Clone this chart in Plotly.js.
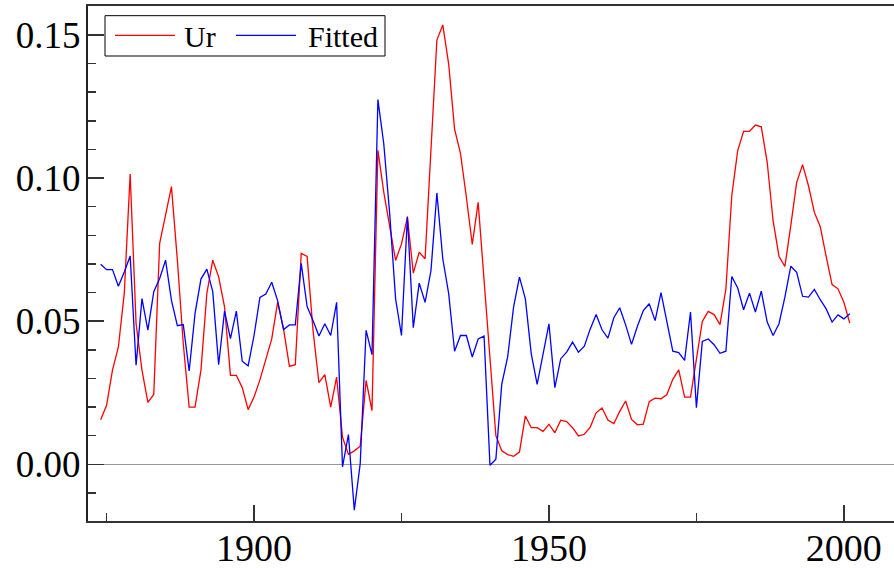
<!DOCTYPE html>
<html>
<head>
<meta charset="utf-8">
<script src="https://cdn.plot.ly/plotly-3.0.1.min.js"></script>
<style>
  html, body { margin: 0; padding: 0; background: #fff; }
  #chart { width: 894px; height: 568px; }
</style>
</head>
<body>
<div id="chart"></div>
<script>
const startYear = 1874;

const ur = [
  0.0156, 0.0206, 0.0329, 0.0410, 0.0597, 0.1014, 0.0492, 0.0329, 0.0216, 0.0244,
  0.0772, 0.0876, 0.0970, 0.0713, 0.0422, 0.0200, 0.0200, 0.0329, 0.0597, 0.0713,
  0.0655, 0.0550, 0.0311, 0.0311, 0.0268, 0.0191, 0.0235, 0.0295, 0.0370, 0.0438,
  0.0566, 0.0473, 0.0342, 0.0348, 0.0737, 0.0726, 0.0468, 0.0285, 0.0313, 0.0200,
  0.0305, 0.0095, 0.0035, 0.0047, 0.0063, 0.0293, 0.0188, 0.1097, 0.0950, 0.0828,
  0.0712, 0.0770, 0.0863, 0.0668, 0.0741, 0.0718, 0.1090, 0.1482, 0.1535, 0.1398,
  0.1171, 0.1086, 0.0933, 0.0768, 0.0915, 0.0645, 0.0375, 0.0100, 0.0047, 0.0034,
  0.0028, 0.0043, 0.0169, 0.0128, 0.0128, 0.0115, 0.0140, 0.0110, 0.0154, 0.0149,
  0.0128, 0.0099, 0.0105, 0.0130, 0.0180, 0.0197, 0.0155, 0.0142, 0.0185, 0.0221,
  0.0157, 0.0138, 0.0140, 0.0219, 0.0231, 0.0229, 0.0244, 0.0297, 0.0330, 0.0235,
  0.0235, 0.0366, 0.0499, 0.0534, 0.0523, 0.0488, 0.0613, 0.0939, 0.1096, 0.1163,
  0.1163, 0.1185, 0.1179, 0.1055, 0.0851, 0.0727, 0.0691, 0.0834, 0.0985, 0.1047,
  0.0973, 0.0880, 0.0830, 0.0726, 0.0628, 0.0613, 0.0566, 0.0493
];

const fitted = [
  0.0699, 0.0680, 0.0680, 0.0622, 0.0672, 0.0728, 0.0346, 0.0579, 0.0469, 0.0603,
  0.0649, 0.0713, 0.0573, 0.0484, 0.0488, 0.0326, 0.0527, 0.0647, 0.0682, 0.0603,
  0.0348, 0.0535, 0.0439, 0.0535, 0.0360, 0.0344, 0.0450, 0.0583, 0.0595, 0.0636,
  0.0572, 0.0471, 0.0487, 0.0487, 0.0702, 0.0551, 0.0502, 0.0448, 0.0491, 0.0450,
  0.0566, -0.0009, 0.0104, -0.0160, 0.0002, 0.0468, 0.0383, 0.1274, 0.1119, 0.0875,
  0.0578, 0.0450, 0.0866, 0.0477, 0.0633, 0.0566, 0.0677, 0.0948, 0.0718, 0.0596,
  0.0395, 0.0450, 0.0450, 0.0375, 0.0438, 0.0448, -0.0003, 0.0018, 0.0280, 0.0375,
  0.0549, 0.0654, 0.0578, 0.0386, 0.0279, 0.0392, 0.0491, 0.0268, 0.0369, 0.0392,
  0.0427, 0.0392, 0.0413, 0.0473, 0.0523, 0.0470, 0.0441, 0.0512, 0.0547, 0.0487,
  0.0419, 0.0482, 0.0537, 0.0561, 0.0502, 0.0600, 0.0497, 0.0395, 0.0390, 0.0363,
  0.0532, 0.0198, 0.0429, 0.0438, 0.0418, 0.0388, 0.0395, 0.0656, 0.0616, 0.0540,
  0.0598, 0.0532, 0.0605, 0.0497, 0.0450, 0.0491, 0.0584, 0.0692, 0.0671, 0.0587,
  0.0584, 0.0611, 0.0575, 0.0543, 0.0497, 0.0522, 0.0508, 0.0526
];

const years = ur.map((_, i) => startYear + i);
const seriesNames = ["Ur", "Fitted"];
const seriesColors = ["#ff0000", "#0000ff"];
const xTickVals = [1900, 1950, 2000];
const xTickText = ["1900", "1950", "2000"];
const yTickVals = [0, 0.05, 0.10, 0.15];
const yTickText = ["0.00", "0.05", "0.10", "0.15"];

const serif = "Liberation Serif, Times New Roman, serif";

const traces = [
  { x: years, y: ur, type: "scatter", mode: "lines", name: seriesNames[0],
    line: { color: seriesColors[0], width: 1.3 } },
  { x: years, y: fitted, type: "scatter", mode: "lines", name: seriesNames[1],
    line: { color: seriesColors[1], width: 1.3 } }
];

// Legend drawn in paper coordinates (box with long sample lines, as in the reference)
const legY = 0.9431;
const legendShapes = [
  { type: "rect", xref: "paper", yref: "paper", x0: 0.0211, x1: 0.3685, y0: 0.9029, y1: 0.9812,
    line: { color: "#000", width: 1 }, fillcolor: "#ffffff", layer: "above" },
  { type: "line", xref: "paper", yref: "paper", x0: 0.0335, x1: 0.1079, y0: legY, y1: legY,
    line: { color: seriesColors[0], width: 1.3 }, layer: "above" },
  { type: "line", xref: "paper", yref: "paper", x0: 0.1836, x1: 0.2581, y0: legY, y1: legY,
    line: { color: seriesColors[1], width: 1.3 }, layer: "above" }
];
const legendTexts = [
  { xref: "paper", yref: "paper", x: 0.1166, y: legY - 0.002, xanchor: "left", yanchor: "middle",
    text: seriesNames[0], showarrow: false, font: { family: serif, size: 30, color: "#000" } },
  { xref: "paper", yref: "paper", x: 0.2705, y: legY - 0.002, xanchor: "left", yanchor: "middle",
    text: seriesNames[1], showarrow: false, font: { family: serif, size: 30, color: "#000" } }
];

const layout = {
  width: 894, height: 568,
  margin: { l: 88, r: 0, t: 6, b: 47, pad: 0 },
  paper_bgcolor: "#ffffff",
  plot_bgcolor: "#ffffff",
  font: { family: serif, size: 37, color: "#000" },
  showlegend: false,
  shapes: legendShapes,
  annotations: legendTexts,
  xaxis: {
    range: [1871.85, 2008.5],
    tickmode: "array", tickvals: xTickVals, ticktext: xTickText,
    ticks: "inside", ticklen: 16, tickwidth: 1.5, tickcolor: "#333",
    minor: { tickmode: "array", tickvals: [1875, 1925, 1975], ticks: "inside", ticklen: 8, tickwidth: 1.5, tickcolor: "#333" },
    showline: true, linecolor: "#333", linewidth: 2, mirror: true,
    showgrid: false, zeroline: false,
    tickfont: { family: serif, size: 38, color: "#000" },
    ticklabelstandoff: -8
  },
  yaxis: {
    range: [-0.0198, 0.1601],
    tickmode: "array", tickvals: yTickVals, ticktext: yTickText,
    ticks: "inside", ticklen: 16, tickwidth: 1.5, tickcolor: "#333",
    minor: { dtick: 0.01, tick0: 0, ticks: "inside", ticklen: 8, tickwidth: 1.5, tickcolor: "#333" },
    showline: true, linecolor: "#222", linewidth: 2, mirror: false,
    showgrid: false,
    zeroline: true, zerolinecolor: "#999", zerolinewidth: 1.2,
    tickfont: { family: serif, size: 37, color: "#000" },
    ticklabelstandoff: -2
  }
};

Plotly.newPlot("chart", traces, layout, { displayModeBar: false, staticPlot: true });
</script>
</body>
</html>
